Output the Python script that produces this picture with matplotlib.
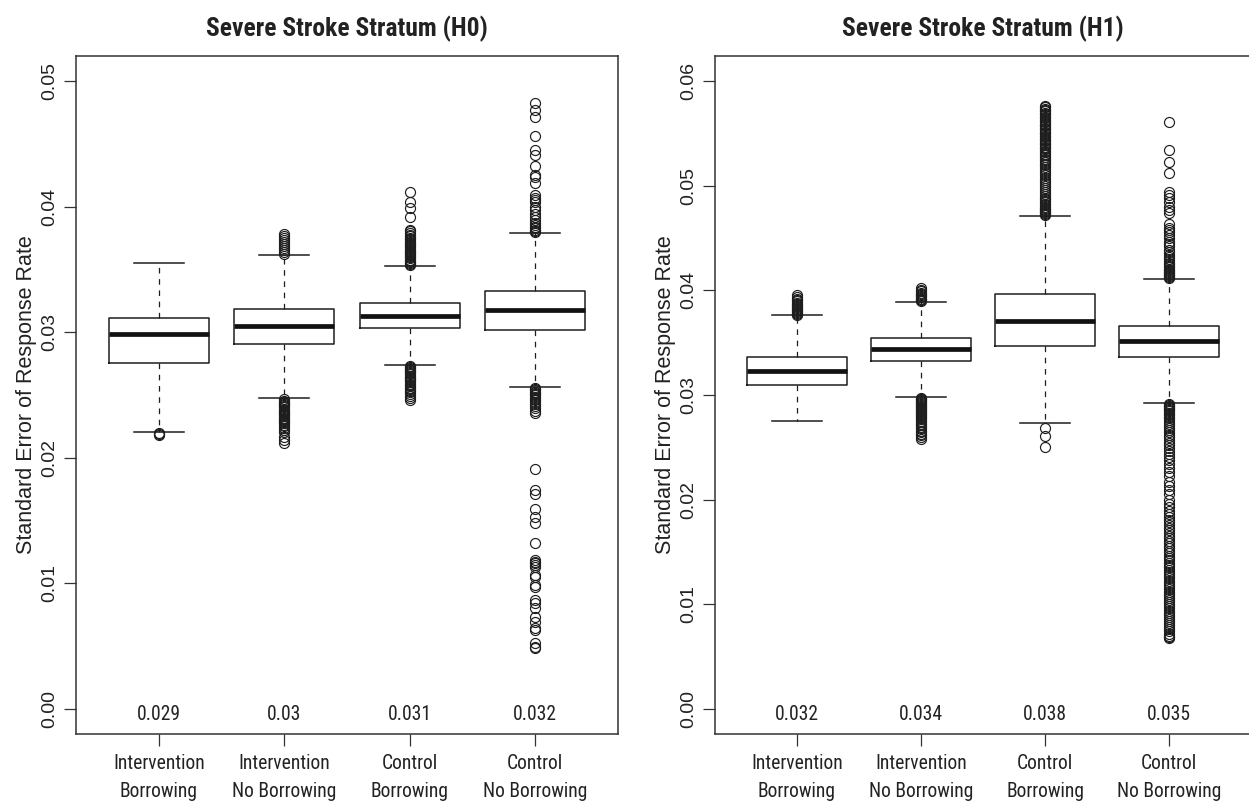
import os
import matplotlib
matplotlib.use("Agg")
import matplotlib.pyplot as plt
from matplotlib import font_manager as fm
from matplotlib.font_manager import FontProperties
from matplotlib.textpath import TextPath

# ---------------- data ----------------
categories = ["Intervention\nBorrowing", "Intervention\nNo Borrowing",
              "Control\nBorrowing", "Control\nNo Borrowing"]

titles = ["Severe Stroke Stratum (H0)", "Severe Stroke Stratum (H1)"]
ylabel = "Standard Error of Response Rate"

# H0 panel: five-number summaries (lower whisker, Q1, median, Q3, upper whisker)
h0_whislo = [0.02208, 0.02473, 0.02739, 0.02561]
h0_q1     = [0.02757, 0.02903, 0.03033, 0.03018]
h0_med    = [0.02983, 0.03052, 0.03129, 0.03174]
h0_q3     = [0.03116, 0.03187, 0.03230, 0.03325]
h0_whishi = [0.03549, 0.03617, 0.03530, 0.03787]
h0_means  = ["0.029", "0.03", "0.031", "0.032"]
h0_yticks = [0.00, 0.01, 0.02, 0.03, 0.04, 0.05]
h0_ylim   = [0.0, 0.05]

h0_out1 = [0.02185, 0.02192, 0.02198]
h0_out2 = [0.03625, 0.03640, 0.03652, 0.03668, 0.03690, 0.03705, 0.03720, 0.03735,
           0.03752, 0.03770, 0.03785,
           0.02465, 0.02455, 0.02446, 0.02437, 0.02428, 0.02419, 0.02410, 0.02401,
           0.02392, 0.02383, 0.02374, 0.02365, 0.02356, 0.02347, 0.02338, 0.02329,
           0.02320, 0.02311, 0.02302, 0.02293, 0.02284, 0.02275, 0.02262, 0.02250,
           0.02238, 0.02222, 0.02205, 0.02168, 0.02142, 0.02115]
h0_out3 = [0.03536, 0.03545, 0.03553, 0.03562, 0.03570, 0.03579, 0.03588, 0.03596,
           0.03605, 0.03613, 0.03622, 0.03631, 0.03640, 0.03648, 0.03657, 0.03666,
           0.03675, 0.03684, 0.03693, 0.03702, 0.03711, 0.03721, 0.03731, 0.03742,
           0.03753, 0.03765, 0.03778, 0.03792, 0.03806, 0.03814, 0.0392, 0.0399,
           0.0404, 0.0412,
           0.02732, 0.02724, 0.02715, 0.02707, 0.02698, 0.02690, 0.02681, 0.02672,
           0.02664, 0.02655, 0.02646, 0.02637, 0.02628, 0.02619, 0.02610, 0.02600,
           0.02590, 0.02580, 0.02570, 0.02559, 0.02547, 0.02535, 0.02522, 0.02508,
           0.02492, 0.02475, 0.02460]
h0_out4 = [0.03795, 0.03805, 0.03815, 0.03827, 0.03840, 0.03854, 0.03870, 0.03893,
           0.03920, 0.03945, 0.03973, 0.04000, 0.04039, 0.04053, 0.04070, 0.04092,
           0.04191, 0.04238, 0.04252, 0.04326, 0.04411, 0.04451, 0.04560, 0.04711,
           0.04769, 0.04822,
           0.02553, 0.02545, 0.02536, 0.02527, 0.02518, 0.02508, 0.02497, 0.02485,
           0.02472, 0.02458, 0.02443, 0.02428, 0.02412, 0.02395, 0.02376, 0.02354,
           0.01908, 0.01744, 0.01709, 0.01590, 0.01531, 0.01478, 0.01319, 0.01186,
           0.01173, 0.01160, 0.01146, 0.01133, 0.01067, 0.01054, 0.00987, 0.00974,
           0.00868, 0.00841, 0.00802, 0.00735, 0.00695, 0.00642, 0.00629, 0.00523,
           0.00496, 0.00483]

# H1 panel
h1_whislo = [0.02751, 0.02983, 0.02735, 0.02920]
h1_q1     = [0.03098, 0.03321, 0.03467, 0.03359]
h1_med    = [0.03225, 0.03436, 0.03706, 0.03512]
h1_q3     = [0.03362, 0.03546, 0.03967, 0.03658]
h1_whishi = [0.03760, 0.03887, 0.04712, 0.04110]
h1_means  = ["0.032", "0.034", "0.038", "0.035"]
h1_yticks = [0.00, 0.01, 0.02, 0.03, 0.04, 0.05, 0.06]
h1_ylim   = [0.0, 0.06]

h1_out1 = [0.03767, 0.03776, 0.03785, 0.03794, 0.03803, 0.03812, 0.03821, 0.03830,
           0.03840, 0.03850, 0.03860, 0.03871, 0.03882, 0.03894, 0.03907, 0.03921,
           0.03937, 0.03953]
h1_out2 = [0.03895, 0.03904, 0.03913, 0.03922, 0.03932, 0.03942, 0.03953, 0.03965,
           0.03978, 0.03992, 0.04006, 0.04018,
           0.02975, 0.02966, 0.02957, 0.02948, 0.02939, 0.02930, 0.02921, 0.02912,
           0.02903, 0.02894, 0.02885, 0.02876, 0.02867, 0.02858, 0.02849, 0.02840,
           0.02830, 0.02820, 0.02810, 0.02800, 0.02789, 0.02778, 0.02766, 0.02754,
           0.02741, 0.02727, 0.02712, 0.02697, 0.02684, 0.02660, 0.02649, 0.02630,
           0.02617, 0.02595, 0.02576]
h1_out3 = [0.04718, 0.04727, 0.04736, 0.04745, 0.04755, 0.04765, 0.04776, 0.04787,
           0.04799, 0.04812, 0.04826, 0.04840, 0.04855, 0.04870, 0.04886, 0.04903,
           0.04920, 0.04938, 0.04957, 0.04976, 0.04995, 0.05015, 0.05036, 0.05056,
           0.05077, 0.05098, 0.05118, 0.05138, 0.05157, 0.05176, 0.05194, 0.05211,
           0.05228, 0.05244, 0.05260, 0.05275, 0.05290, 0.05305, 0.05319, 0.05333,
           0.05347, 0.05360, 0.05373, 0.05386, 0.05399, 0.05412, 0.05425, 0.05438,
           0.05451, 0.05464, 0.05477, 0.05490, 0.05503, 0.05516, 0.05529, 0.05542,
           0.05555, 0.05568, 0.05581, 0.05594, 0.05607, 0.05620, 0.05633, 0.05646,
           0.05659, 0.05672, 0.05685, 0.05698, 0.05711, 0.05724, 0.05737, 0.05750,
           0.05762,
           0.02681, 0.02607, 0.02505]
h1_out4 = [0.04117, 0.04126, 0.04135, 0.04144, 0.04153, 0.04163, 0.04173, 0.04184,
           0.04195, 0.04207, 0.04220, 0.04234, 0.04249, 0.04265, 0.04282, 0.04300,
           0.04320, 0.04342, 0.04365, 0.04390, 0.04420, 0.04445, 0.04463, 0.04500,
           0.04527, 0.04560, 0.04575, 0.04600, 0.04639, 0.04737, 0.04770, 0.04800,
           0.04846, 0.04880, 0.04910, 0.04941, 0.05123, 0.05228, 0.05339, 0.05609,
           0.02912, 0.02903, 0.02894, 0.02885, 0.02875, 0.02865, 0.02854, 0.02843,
           0.02831, 0.02818, 0.02805, 0.02791, 0.02776, 0.02760, 0.02743, 0.02725,
           0.02706, 0.02686, 0.02665, 0.02643, 0.02620, 0.02596, 0.02571, 0.02545,
           0.02518, 0.02490, 0.02461, 0.02432, 0.02403, 0.02374, 0.02345, 0.02300,
           0.02264, 0.02230, 0.02168, 0.02130, 0.02092, 0.02050, 0.01996, 0.01960,
           0.01925, 0.01895, 0.01866, 0.01838, 0.01810, 0.01783, 0.01756, 0.01730,
           0.01705, 0.01680, 0.01655, 0.01630, 0.01606, 0.01582, 0.01558, 0.01535,
           0.01512, 0.01489, 0.01466, 0.01443, 0.01420, 0.01398, 0.01376, 0.01354,
           0.01332, 0.01310, 0.01289, 0.01268, 0.01247, 0.01226, 0.01205, 0.01184,
           0.01163, 0.01142, 0.01121, 0.01100, 0.01080, 0.01060, 0.01040, 0.01020,
           0.01000, 0.00980, 0.00960, 0.00940, 0.00920, 0.00900, 0.00880, 0.00860,
           0.00840, 0.00820, 0.00800, 0.00780, 0.00760, 0.00740, 0.00720, 0.00700,
           0.00688, 0.00675]

h0_outliers = [h0_out1, h0_out2, h0_out3, h0_out4]
h1_outliers = [h1_out1, h1_out2, h1_out3, h1_out4]

# ---------------- fonts ----------------
def find_font(names, keywords, bold):
    files = {os.path.basename(f.fname).lower(): f.fname for f in fm.fontManager.ttflist}
    for n in names:
        if n.lower() in files:
            return files[n.lower()]
    for f in fm.fontManager.ttflist:
        b = os.path.basename(f.fname).lower()
        if any(k in b for k in keywords) and (("bold" in b) == bold) and "italic" not in b and "oblique" not in b:
            return f.fname
    return None

nr = find_font(["LiberationSansNarrow-Regular.ttf", "RobotoCondensed-Regular.ttf",
                "DejaVuSansCondensed.ttf"], ["narrow", "condensed"], False)
nb = find_font(["LiberationSansNarrow-Bold.ttf", "RobotoCondensed-Bold.ttf",
                "DejaVuSansCondensed-Bold.ttf"], ["narrow", "condensed"], True)
fp_lab = FontProperties(fname=nr) if nr else FontProperties(family="Liberation Sans")
fp_tit = FontProperties(fname=nb) if nb else FontProperties(family="Liberation Sans", weight="bold")

# fit label size so "Intervention" is ~89 px wide
ink = TextPath((0, 0), "Intervention", size=1, prop=fp_lab).get_extents().width
lab_px = 89.0 / ink
lab_pt = lab_px * 0.72
ink_t = TextPath((0, 0), titles[0], size=1, prop=fp_tit).get_extents().width
tit_pt = (279.0 / ink_t) * 0.72

REG = "Liberation Sans"
TXT = "#222222"
LINE = "#1e1e1e"

W, H = 1249, 807
fig = plt.figure(figsize=(W / 100, H / 100), dpi=100)

def rect(x0, x1, y0, y1):
    return [x0 / W, 1 - y1 / H, (x1 - x0) / W, (y1 - y0) / H]

panels = [
    dict(rect=rect(76, 618, 56, 734), title=titles[0], lo=h0_whislo, q1=h0_q1, med=h0_med,
         q3=h0_q3, hi=h0_whishi, out=h0_outliers, means=h0_means, yt=h0_yticks, yl=h0_ylim),
    dict(rect=rect(715, 1251, 56, 734), title=titles[1], lo=h1_whislo, q1=h1_q1, med=h1_med,
         q3=h1_q3, hi=h1_whishi, out=h1_outliers, means=h1_means, yt=h1_yticks, yl=h1_ylim),
]

positions = [1, 2, 3, 4]
for p in panels:
    ax = fig.add_axes(p["rect"])
    stats = []
    for i in range(4):
        stats.append(dict(whislo=p["lo"][i], q1=p["q1"][i], med=p["med"][i],
                          q3=p["q3"][i], whishi=p["hi"][i], fliers=p["out"][i]))
    ax.bxp(stats, positions=positions, widths=0.8, capwidths=0.4, manage_ticks=False,
           boxprops=dict(color=LINE, linewidth=1.1),
           medianprops=dict(color="#111111", linewidth=3.4, solid_capstyle="butt"),
           whiskerprops=dict(color=LINE, linewidth=0.9, linestyle=(0, (4.5, 4.5))),
           capprops=dict(color=LINE, linewidth=1.1),
           flierprops=dict(marker="o", markerfacecolor="none", markeredgecolor="#1e1e1e",
                           markersize=7.2, markeredgewidth=0.85, linestyle="none"))
    # R-style axis ranges (4% extension)
    r = p["yl"][1] - p["yl"][0]
    ax.set_ylim(p["yl"][0] - 0.04 * r, p["yl"][1] + 0.04 * r)
    ax.set_xlim(0.5 - 0.04 * 4, 4.5 + 0.04 * 4)

    ax.set_yticks(p["yt"])
    ax.set_yticklabels(["%.2f" % v for v in p["yt"]], rotation=90, va="center",
                       family=REG, fontsize=14, color=TXT)
    ax.set_xticks(positions)
    ax.set_xticklabels(categories, fontproperties=fp_lab, color=TXT, linespacing=1.62)
    for t in ax.get_xticklabels():
        t.set_fontsize(lab_pt)
    ax.tick_params(axis="y", length=8.6, width=0.9, pad=4.5, color="#333333")
    ax.tick_params(axis="x", length=8.6, width=0.9, pad=5.5, color="#333333")
    for s in ax.spines.values():
        s.set_color("#333333")
        s.set_linewidth(1.1)

    ax.set_ylabel(ylabel, family=REG, fontsize=15.5, color=TXT)
    axw = p["rect"][2] * W
    ax.yaxis.set_label_coords(-38.5 / axw, 0.5)

    ax.set_title(p["title"], fontproperties=fp_tit, fontsize=tit_pt, color=TXT, pad=14.4)

    for i in range(4):
        ax.annotate(p["means"][i], (positions[i], 0.0), xytext=(0, -8),
                    textcoords="offset points", ha="center", va="baseline",
                    fontproperties=fp_lab, fontsize=lab_pt, color=TXT)

fig.savefig("out.png", dpi=100)
